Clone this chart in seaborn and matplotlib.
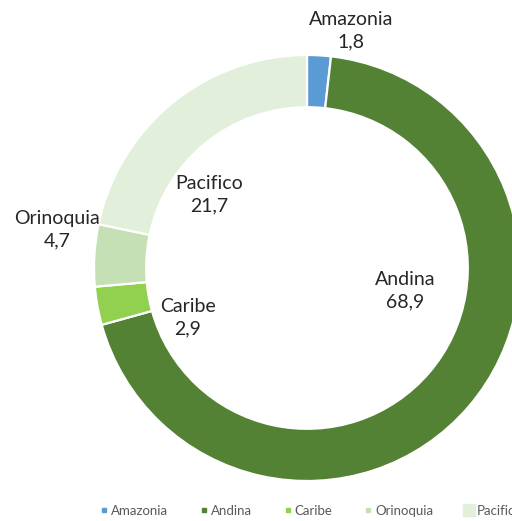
import matplotlib
matplotlib.use("Agg")
import matplotlib.pyplot as plt
from matplotlib.lines import Line2D
import seaborn as sns

# Share of each region (%)
regions = ["Amazonia", "Andina", "Caribe", "Orinoquia", "Pacifico"]
shares = [1.8, 68.9, 2.9, 4.7, 21.7]
colors = ["#5B9BD5", "#548235", "#92D050", "#C5E0B4", "#E2EFDA"]

# Where each data label sits, in pie units (radius = 1)
label_pos = [(0.207, 1.115), (0.46, -0.105), (-0.56, -0.235), (-1.175, 0.178), (-0.46, 0.345)]

sns.set_theme(style="white")
plt.rcParams["font.family"] = ["Lato", "DejaVu Sans"]

W, H = 512, 521
fig = plt.figure(figsize=(W / 100, H / 100), dpi=100)
cx, cy, r = 307, 268, 213
ax = fig.add_axes([(cx - r) / W, (H - cy - r) / H, 2 * r / W, 2 * r / H])

wedges, _ = ax.pie(
    shares,
    colors=colors,
    startangle=90,
    counterclock=False,
    radius=1.0,
    wedgeprops=dict(width=0.245, edgecolor="white", linewidth=1.6),
)
for w in wedges:
    w.set_clip_on(False)
ax.set_xlim(-1, 1)
ax.set_ylim(-1, 1)
ax.set_aspect("equal")
ax.axis("off")

for name, val, (lx, ly) in zip(regions, shares, label_pos):
    ax.text(lx, ly, f"{name}\n{val:.1f}".replace(".", ","), ha="center", va="center",
            fontsize=14, color="#262626", linespacing=1.38, clip_on=False)

handles = [
    Line2D([], [], marker="s", linestyle="none", markersize=(8 if n == "Pacifico" else 3.5),
           markerfacecolor=c, markeredgecolor=c)
    for n, c in zip(regions, colors)
]
leg = fig.legend(handles, regions, ncol=5, loc="center left",
                 bbox_to_anchor=(93 / W, 1 - 511 / H), frameon=False,
                 fontsize=9.5, handlelength=0.6, handletextpad=0.25, columnspacing=2.4,
                 labelcolor="#595959", borderpad=0)

fig.savefig("out.png", dpi=100)
